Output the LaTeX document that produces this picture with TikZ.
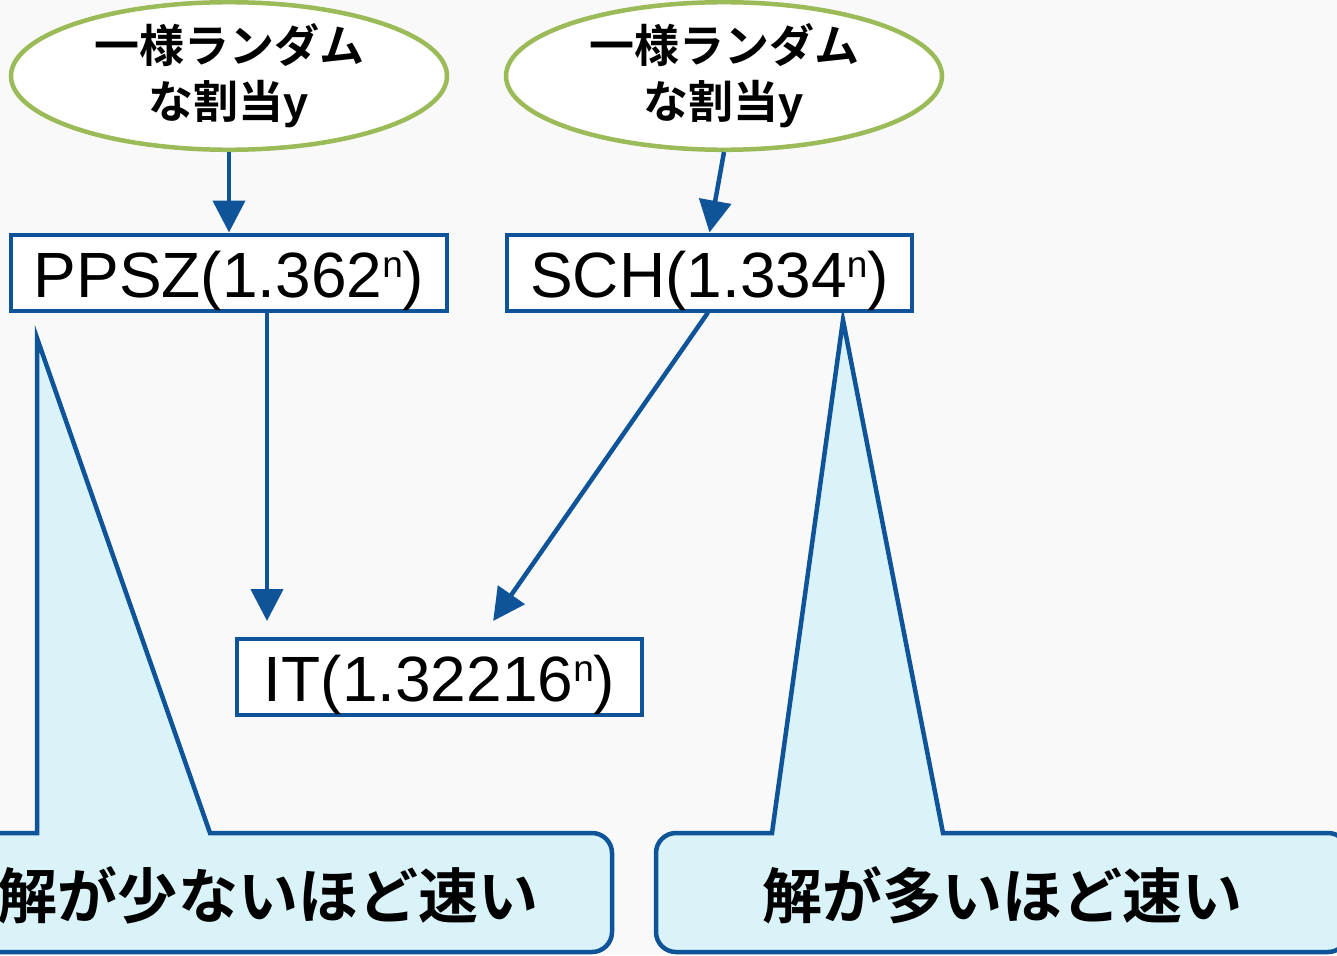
\documentclass[tikz,border=0pt]{standalone}
\usepackage{fontspec}
\setmainfont{Liberation Sans}
\newfontfamily\jpfont{Noto Sans CJK JP}[BoldFont={* Bold}]
\usetikzlibrary{arrows.meta,shapes.geometric}
\definecolor{bblue}{HTML}{0F5499}
\definecolor{egreen}{HTML}{9BBB59}
\definecolor{cfill}{HTML}{DAF3F8}
\definecolor{bg}{HTML}{F9F9F9}
\tikzset{
  oval/.style={ellipse, draw=egreen, line width=4.5pt, fill=white, minimum width=436pt, minimum height=130pt, inner sep=0pt, align=center, font=\fontsize{45}{56}\selectfont\bfseries},
  algbox/.style={rectangle, draw=bblue, line width=4pt, fill=white, minimum height=76pt, inner sep=0pt, text height=52pt, text depth=3pt, font=\fontsize{64}{64}\selectfont},
  arr/.style={draw=bblue, line width=4.5pt, -{Triangle[width=32pt,length=32pt]}},
  callout/.style={draw=bblue, line width=4.5pt, fill=cfill},
  ctext/.style={font=\jpfont\bfseries\fontsize{60}{60}\selectfont, inner sep=0pt},
}
\newcommand{\supn}{\raisebox{20pt}{\fontsize{37}{37}\selectfont n}}
\begin{document}
\begin{tikzpicture}[x=1pt,y=-1pt]
\useasboundingbox (0,0) rectangle (1337,955);
\clip (0,0) rectangle (1337,955);
\fill[bg] (0,0) rectangle (1337,955);

% callouts
\draw[callout] (37,338) -- (210,833) [rounded corners=20pt] -- (612,833) -- (612,952) -- (-72,952) -- (-72,833) [sharp corners] -- (37,833) -- cycle;
\draw[callout] (843,320) -- (943,833) [rounded corners=20pt] -- (1348,833) -- (1348,952) -- (656,952) -- (656,833) [sharp corners] -- (772,833) -- cycle;
\node[ctext] (c1) at (268,895) {解が少ないほど速い};
\node[ctext] (c2) at (1002,895) {解が多いほど速い};

% ellipses
\node[oval] (e1) at (229,76) {{\jpfont 一様ランダム}\\{\jpfont な割当}y};
\node[oval] (e2) at (724,76) {{\jpfont 一様ランダム}\\{\jpfont な割当}y};

% boxes
\node[algbox, minimum width=436pt] (ppsz) at (229,272.5) {PPSZ(1.362\supn)};
\node[algbox, minimum width=405pt] (sch) at (709.5,272.5) {SCH(1.334\supn)};
\node[algbox, minimum width=405pt] (it) at (439.5,677) {IT(1.32216\supn)};

% arrows
\draw[arr] (e1.south) -- (ppsz.north);
\draw[arr] (e2.south) -- (sch.north);
\draw[arr, shorten >=16pt] ([xshift=38pt]ppsz.south) -- ([xshift=-172.5pt]it.north);
\draw[arr, shorten >=19.5pt] ([xshift=-1.5pt]sch.south) -- ([xshift=42.5pt]it.north);
\end{tikzpicture}
\end{document}
